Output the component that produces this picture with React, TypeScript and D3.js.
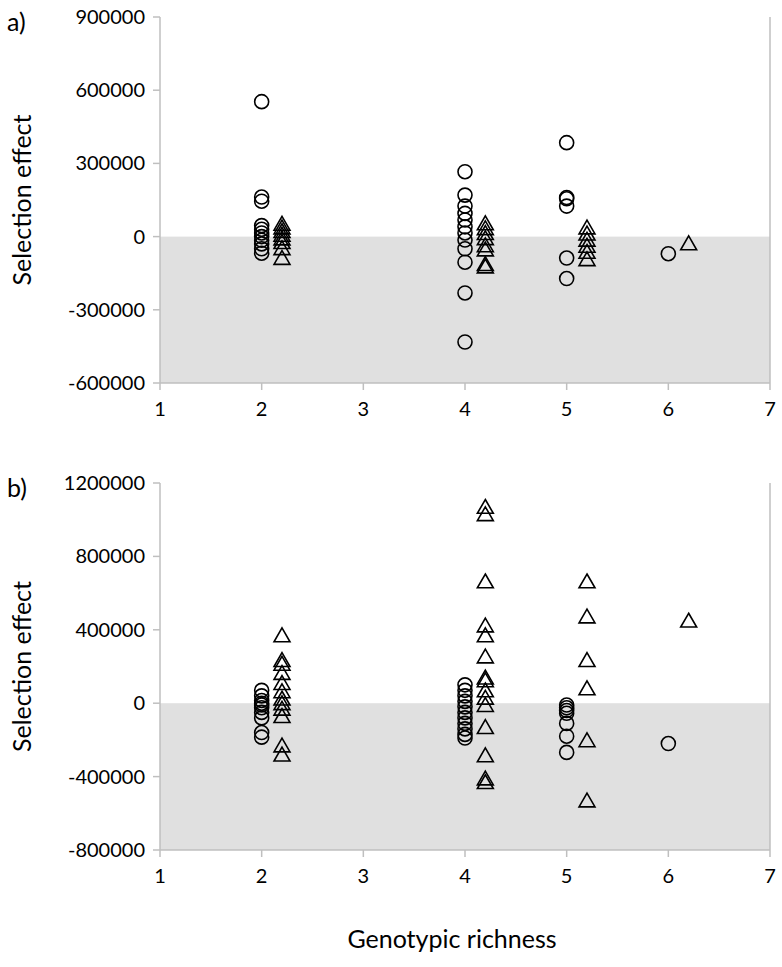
import React from "react";
import * as d3 from "d3";

// ---------- data ----------
const xTicks = [1, 2, 3, 4, 5, 6, 7];
const yTicksA = [900000, 600000, 300000, 0, -300000, -600000];
const yTicksB = [1200000, 800000, 400000, 0, -400000, -800000];

// panel a) circles [richness, value]
const circlesA: [number, number][] = [
  [2, 553000], [2, 162000], [2, 145000], [2, 45000], [2, 30000], [2, 15000], [2, 0], [2, -15000], [2, -30000], [2, -50000], [2, -68000],
  [4, 266000], [4, 170000], [4, 125000], [4, 95000], [4, 68000], [4, 40000], [4, 15000], [4, -14000], [4, -50000], [4, -105000], [4, -231000], [4, -432000],
  [5, 385000], [5, 160000], [5, 155000], [5, 125000], [5, -88000], [5, -172000],
  [6, -70000],
];
// panel a) triangles
const trianglesA: [number, number][] = [
  [2.2, 45000], [2.2, 30000], [2.2, 15000], [2.2, 0], [2.2, -15000], [2.2, -30000], [2.2, -55000], [2.2, -95000],
  [4.2, 47000], [4.2, 27000], [4.2, 7000], [4.2, -14000], [4.2, -43000], [4.2, -60000], [4.2, -120000], [4.2, -130000],
  [5.2, 30000], [5.2, 5000], [5.2, -20000], [5.2, -45000], [5.2, -70000], [5.2, -100000],
  [6.2, -35000],
];
// panel b) circles
const circlesB: [number, number][] = [
  [2, 70000], [2, 40000], [2, 15000], [2, 0], [2, -10000], [2, -25000], [2, -50000], [2, -80000], [2, -160000], [2, -185000],
  [4, 100000], [4, 70000], [4, 40000], [4, 10000], [4, -20000], [4, -50000], [4, -80000], [4, -110000], [4, -140000], [4, -170000], [4, -190000],
  [5, -10000], [5, -25000], [5, -40000], [5, -55000], [5, -110000], [5, -180000], [5, -268000],
  [6, -220000],
];
// panel b) triangles
const trianglesB: [number, number][] = [
  [2.2, 360000], [2.2, 225000], [2.2, 205000], [2.2, 155000], [2.2, 100000], [2.2, 55000], [2.2, 15000], [2.2, -10000], [2.2, -40000], [2.2, -80000], [2.2, -240000], [2.2, -290000],
  [4.2, 1060000], [4.2, 1020000], [4.2, 654000], [4.2, 414000], [4.2, 360000], [4.2, 245000], [4.2, 130000], [4.2, 115000], [4.2, 60000], [4.2, 20000], [4.2, -20000], [4.2, -140000], [4.2, -294000], [4.2, -420000], [4.2, -440000],
  [5.2, 654000], [5.2, 463000], [5.2, 225000], [5.2, 71000], [5.2, -212000], [5.2, -540000],
  [6.2, 440000],
];

const FONT = "Lato, 'Open Sans', sans-serif";
const AXIS = "#bfbfbf";
const SHADE = "#e0e0e0";

const triPath = d3.symbol().type(d3.symbolTriangle).size(110)() as string;

function Panel(props: {
  top: number; bottom: number; yTicks: number[]; circles: [number, number][]; triangles: [number, number][]; label: string;
}) {
  const { top, bottom, yTicks, circles, triangles, label } = props;
  const left = 160, right = 770;
  const x = d3.scaleLinear().domain([1, 7]).range([left, right]);
  const y = d3.scaleLinear().domain([yTicks[yTicks.length - 1], yTicks[0]]).range([bottom, top]);
  const y0 = y(0);
  return (
    <g>
      <rect x={left} y={y0} width={right - left} height={bottom - y0} fill={SHADE} />
      <line x1={left} x2={left} y1={top} y2={bottom} stroke={AXIS} strokeWidth={1.5} />
      <line x1={right} x2={right} y1={top} y2={bottom} stroke={AXIS} strokeWidth={1.5} />
      <line x1={left} x2={right} y1={bottom} y2={bottom} stroke={AXIS} strokeWidth={1.5} />
      {yTicks.map((t) => (
        <g key={t}>
          <line x1={left - 7} x2={left} y1={y(t)} y2={y(t)} stroke={AXIS} strokeWidth={1.5} />
          <text x={left - 15} y={y(t)} dy="0.35em" textAnchor="end" fontFamily={FONT} fontSize={20} fill="#000">{t}</text>
        </g>
      ))}
      {xTicks.map((t) => (
        <g key={t}>
          <line x1={x(t)} x2={x(t)} y1={bottom} y2={bottom + 7} stroke={AXIS} strokeWidth={1.5} />
          <text x={x(t)} y={bottom + 26} dy="0.35em" textAnchor="middle" fontFamily={FONT} fontSize={20} fill="#000">{t}</text>
        </g>
      ))}
      {circles.map((d, i) => (
        <circle key={"c" + i} cx={x(d[0])} cy={y(d[1])} r={7} fill="none" stroke="#000" strokeWidth={1.6} />
      ))}
      {triangles.map((d, i) => (
        <path key={"t" + i} d={triPath} transform={`translate(${x(d[0])},${y(d[1])})`} fill="none" stroke="#000" strokeWidth={1.6} />
      ))}
      <text transform={`translate(31,${(top + bottom) / 2}) rotate(-90)`} textAnchor="middle" fontFamily={FONT} fontSize={25} fill="#000">Selection effect</text>
      <text x={7} y={top + 14} fontFamily={FONT} fontSize={25} fill="#000">{label}</text>
    </g>
  );
}

export default function App() {
  return (
    <svg width={782} height={967} style={{ position: "absolute", left: 0, top: 0, background: "#fff" }}>
      <rect width={782} height={967} fill="#fff" />
      <Panel top={17} bottom={383} yTicks={yTicksA} circles={circlesA} triangles={trianglesA} label="a)" />
      <Panel top={483} bottom={850} yTicks={yTicksB} circles={circlesB} triangles={trianglesB} label="b)" />
      <text x={452} y={948} textAnchor="middle" fontFamily={FONT} fontSize={25} fill="#000">Genotypic richness</text>
    </svg>
  );
}
